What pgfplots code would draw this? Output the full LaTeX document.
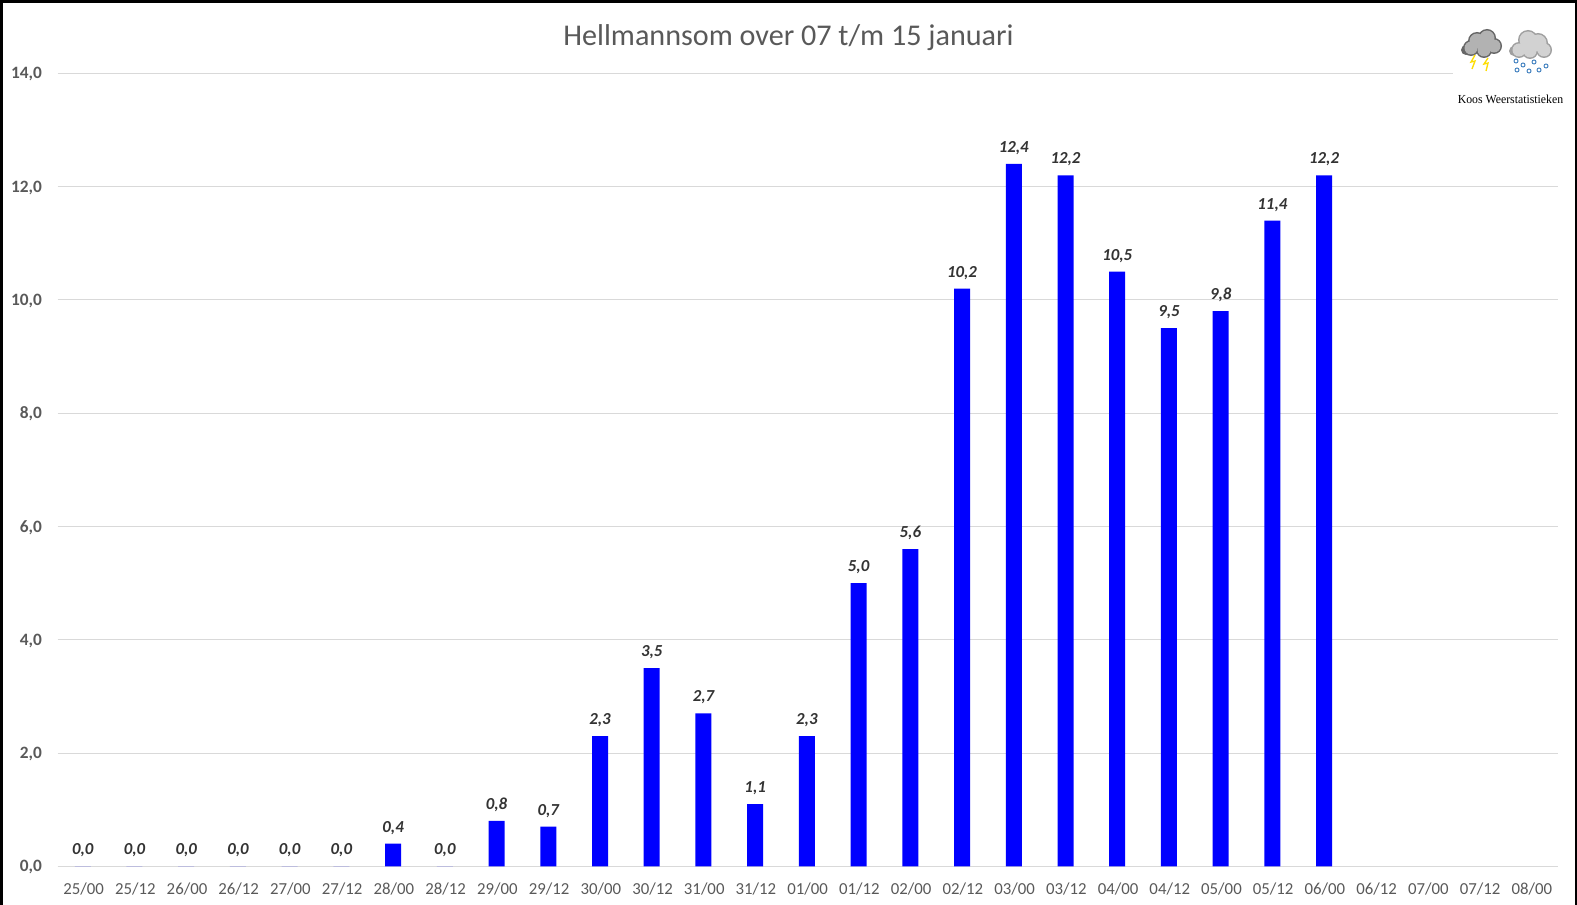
\documentclass[border=0pt]{standalone}
\usepackage{fontspec}
\setmainfont{Carlito}
\newfontfamily\koos{Liberation Serif}
\usepackage{pgfplots}
\pgfplotsset{compat=1.18}
\definecolor{txt}{HTML}{595959}
\definecolor{lbl}{HTML}{333333}
\definecolor{grid}{HTML}{D9D9D9}
\begin{document}
\begin{tikzpicture}
\useasboundingbox (0pt,0pt) rectangle (1182.75pt,-678.75pt);
\begin{axis}[
  at={(43.275pt,-649.725pt)}, anchor=south west,
  scale only axis, width=1125pt, height=594.75pt,
  xmin=-0.5, xmax=28.5, ymin=0, ymax=14,
  clip=false,
  ybar, bar width=12pt,
  axis x line*=bottom,
  axis y line*=left,
  separate axis lines,
  x axis line style={draw=grid,-},
  y axis line style={draw=none,-},
  major tick length=0pt,
  tick style={draw=none},
  ymajorgrids, grid style={draw=grid,line width=0.75pt},
  ytick={0,2,4,6,8,10,12,14},
  xtick={0,...,28},
  xticklabels={25/00,25/12,26/00,26/12,27/00,27/12,28/00,28/12,29/00,29/12,30/00,30/12,31/00,31/12,01/00,01/12,02/00,02/12,03/00,03/12,04/00,04/12,05/00,05/12,06/00,06/12,07/00,07/12,08/00},
  x tick label style={font=\fontsize{12.6}{14}\selectfont,text=txt,yshift=-8.6pt},
  y tick label style={font=\fontsize{13}{14}\selectfont\bfseries,text=txt,xshift=-8.3pt,yshift=-0.75pt},
  /pgf/number format/.cd,fixed,fixed zerofill,precision=1,use comma,assume math mode=true,
  /pgfplots/.cd,
  nodes near coords,
  nodes near coords style={font=\fontsize{12.6}{14}\selectfont\bfseries\itshape,text=lbl,anchor=south,inner sep=0pt,yshift=6.7pt},
]
\addplot[fill=blue,draw=none,bar shift=-0.6pt] coordinates {
(0,0)(1,0)(2,0)(3,0)(4,0)(5,0)(6,0.4)(7,0)(8,0.8)(9,0.7)(10,2.3)(11,3.5)(12,2.7)(13,1.1)(14,2.3)(15,5.0)(16,5.6)(17,10.2)(18,12.4)(19,12.2)(20,10.5)(21,9.5)(22,9.8)(23,11.4)(24,12.2)
};
\end{axis}
\begin{scope}[x=0.75pt,y=-0.75pt]
\node[font=\fontsize{22.6}{27}\selectfont,text=txt] at (788.5,38) {Hellmannsom over 07 t/m 15 januari};
% logo area
\fill[white] (1453,20) rectangle (1572,80);
\foreach \cx/\cy/\r in {1477/41/9,1487/38/9,1494/46/8,1471/48/8,1484/50/8,1466/50/5}{
  \fill[gray!80!black] (\cx,\cy) circle (\r);}
\foreach \cx/\cy/\r in {1477/41/7.5,1487/38/7.5,1494/46/6.5,1471/48/6.5,1484/50/6.5}{
  \fill[gray!60] (\cx,\cy) circle (\r);}
\draw[yellow!80!orange,line width=1pt] (1475,55)--(1471,62)--(1475,61)--(1472,69);
\draw[yellow!80!orange,line width=1pt] (1488,58)--(1484,64)--(1488,63)--(1486,71);
\foreach \cx/\cy/\r in {1528/40/10,1538/43/10,1544/50/8,1519/50/8,1530/51/8,1514/51/5}{
  \fill[gray!75] (\cx,\cy) circle (\r);}
\foreach \cx/\cy/\r in {1528/40/8.5,1538/43/8.5,1544/50/6.5,1519/50/6.5,1530/51/6.5}{
  \fill[gray!35] (\cx,\cy) circle (\r);}
\foreach \cx/\cy in {1516/61,1517/70,1523/65,1529/71,1534/62,1539/70,1546/66}{
  \draw[blue!50!cyan!50!gray,line width=0.7pt] (\cx,\cy) circle (2);}
\node[font=\koos\fontsize{9.2}{11}\selectfont,text=black] at (1510.5,99.5) {\scalebox{0.96}[1]{Koos Weerstatistieken}};
% frame
\fill[black] (0,0) rectangle (1577,3);
\fill[black] (0,0) rectangle (3,905);
\fill[black] (1574.5,0) rectangle (1577,905);
\end{scope}
\end{tikzpicture}
\end{document}
